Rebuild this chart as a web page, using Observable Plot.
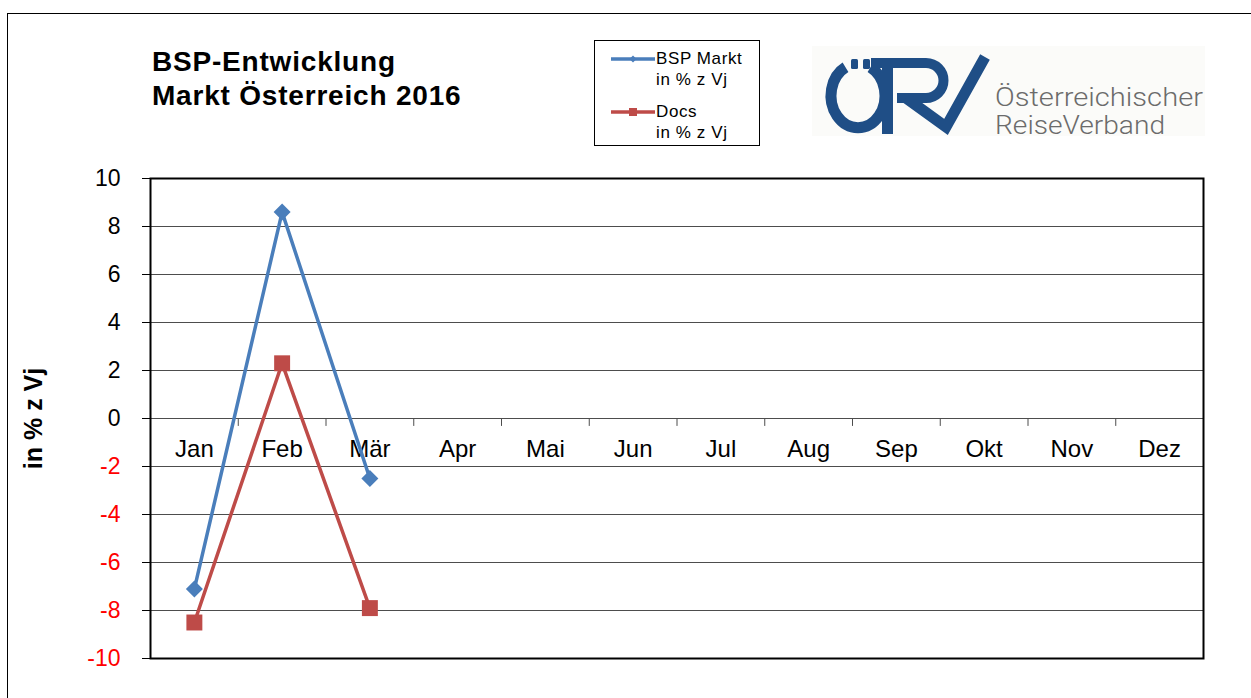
<!DOCTYPE html>
<html>
<head>
<meta charset="utf-8">
<script src="https://cdn.jsdelivr.net/npm/d3@7"></script>
<script src="https://cdn.jsdelivr.net/npm/@observablehq/plot@0.6"></script>
<style>
html,body{margin:0;padding:0;background:#fff;overflow:hidden;width:1251px;height:698px;font-family:"Liberation Sans",Arial,sans-serif}
#wrap{position:relative;width:1251px;height:698px;overflow:hidden}
#border{position:absolute;left:7px;top:13px;width:1400px;height:900px;border:1px solid #000}
#chart{position:absolute;left:0;top:0}
#title{position:absolute;left:152px;top:45px;font-weight:bold;font-size:28px;letter-spacing:0.8px;line-height:34px;color:#000;white-space:nowrap}
#legend{position:absolute;left:594px;top:40px;width:166px;height:106px;border:1px solid #000;box-sizing:border-box;background:#fff}
#deco{position:absolute;left:0;top:0;pointer-events:none}
</style>
</head>
<body>
<div id="wrap">
  <div id="border"></div>
  <div id="chart"></div>
  <div id="title">BSP-Entwicklung<br>Markt Österreich 2016</div>
  <div id="legend"></div>
  <svg id="deco" width="1251" height="698"></svg>
</div>
<script>
// ---- data ----
const months = ["Jan","Feb","Mär","Apr","Mai","Jun","Jul","Aug","Sep","Okt","Nov","Dez"];
const bspMarkt = [-7.1, 8.6, -2.5];
const docs = [-8.5, 2.3, -7.9];
const yTicks = [-10, -8, -6, -4, -2, 0, 2, 4, 6, 8, 10];
const seriesNames = ["BSP Markt", "Docs"];
const seriesSub = ["in % z Vj", "in % z Vj"];
const seriesColors = ["#4a7ebb", "#be4b48"];
const yLabel = "in % z Vj";

const rowsBsp = bspMarkt.map((v, i) => ({month: months[i], idx: i + 0.5, value: v, series: seriesNames[0], color: seriesColors[0]}));
const rowsDocs = docs.map((v, i) => ({month: months[i], idx: i + 0.5, value: v, series: seriesNames[1], color: seriesColors[1]}));

const font = "Liberation Sans, Arial, sans-serif";

const chart = Plot.plot({
  width: 1251,
  height: 698,
  marginLeft: 150,
  marginRight: 48,
  marginTop: 178,
  marginBottom: 40,
  x: {type: "linear", domain: [0, months.length], axis: null},
  y: {domain: [-10, 10], axis: null},
  style: {fontFamily: font, background: "transparent", color: "#000"},
  marks: [
    Plot.ruleY(yTicks, {stroke: "#4d4d4d", strokeWidth: 1}),
    Plot.ruleX(d3.range(1, months.length), {y1: 0, y2: -0.33, stroke: "#4d4d4d", strokeWidth: 1}),
    Plot.frame({stroke: "#000", strokeWidth: 2}),
    Plot.axisY({
      ticks: yTicks,
      tickSize: 8,
      tickPadding: 22,
      tickFormat: d => String(d),
      fontSize: 23,
      fill: d => d < 0 ? "#ff0000" : "#000000",
      label: null
    }),
    Plot.text(months, {x: (d, i) => i + 0.5, y: 0, dy: 31, text: d => d, fontSize: 24, fill: "#000"}),
    Plot.text([yLabel], {frameAnchor: "left", dx: -117, rotate: -90, textAnchor: "middle", lineAnchor: "middle", fontSize: 25, fontWeight: "bold", fill: "#000", text: d => d}),
    Plot.line(rowsBsp, {x: "idx", y: "value", stroke: "color", strokeWidth: 3.5}),
    Plot.dot(rowsBsp, {x: "idx", y: "value", symbol: "square", rotate: 45, r: 6.8, fill: "color", stroke: "none"}),
    Plot.line(rowsDocs, {x: "idx", y: "value", stroke: "color", strokeWidth: 3.5}),
    Plot.dot(rowsDocs, {x: "idx", y: "value", symbol: "square", r: 9, fill: "color", stroke: "none"})
  ]
});
document.getElementById("chart").appendChild(chart);

// ---- legend ----
const lg = d3.select("#legend").append("svg").attr("width", 164).attr("height", 104)
  .style("position", "absolute").style("left", "0px").style("top", "0px");
const lgY = [18, 71];
seriesNames.forEach((name, i) => {
  const g = lg.append("g");
  g.append("line").attr("x1", 16).attr("x2", 60).attr("y1", lgY[i]).attr("y2", lgY[i])
    .attr("stroke", seriesColors[i]).attr("stroke-width", 3.5);
  if (i === 0) {
    g.append("rect").attr("x", -2.5).attr("y", -2.5).attr("width", 5).attr("height", 5)
      .attr("transform", `translate(38,${lgY[i]}) rotate(45)`).attr("fill", seriesColors[i]);
  } else {
    g.append("rect").attr("x", 34).attr("y", lgY[i] - 4).attr("width", 8).attr("height", 8).attr("fill", seriesColors[i]);
  }
  g.append("text").attr("x", 61).attr("y", lgY[i] + 5).text(name)
    .attr("font-family", font).attr("font-size", 17).attr("letter-spacing", 0.6).attr("fill", "#000");
  g.append("text").attr("x", 61).attr("y", lgY[i] + 26).text(seriesSub[i])
    .attr("font-family", font).attr("font-size", 17).attr("letter-spacing", 0.6).attr("fill", "#000");
});

// ---- logo (decoration) ----
const deco = d3.select("#deco");
const blue = "#1f4e86";
deco.append("rect").attr("x", 812).attr("y", 46).attr("width", 393).attr("height", 90).attr("fill", "#fbfbf9");
// ring with gap at top
deco.append("path").attr("d", "M 845.5 67.3 A 27 32 0 1 0 870.5 67.3")
  .attr("fill", "none").attr("stroke", blue).attr("stroke-width", 11);
deco.append("rect").attr("x", 851).attr("y", 59).attr("width", 7).attr("height", 10).attr("rx", 1.5).attr("fill", blue);
deco.append("rect").attr("x", 863).attr("y", 59).attr("width", 7).attr("height", 10).attr("rx", 1.5).attr("fill", blue);
// R stem
deco.append("rect").attr("x", 882).attr("y", 58).attr("width", 11).attr("height", 76).attr("fill", blue);
// R top bar + bowl
deco.append("path").attr("d", "M 871 63 H 926 A 17.5 17.5 0 0 1 926 98 H 897")
  .attr("fill", "none").attr("stroke", blue).attr("stroke-width", 10);
// leg + V
deco.append("polyline").attr("points", "906,98 946,127 985,57")
  .attr("fill", "none").attr("stroke", blue).attr("stroke-width", 11).attr("stroke-linejoin", "miter").attr("stroke-miterlimit", 10);
deco.append("text").attr("x", 995).attr("y", 106).text("Österreichischer")
  .attr("font-family", "Roboto, DejaVu Sans, sans-serif").attr("font-weight", 300).attr("font-size", 25)
  .attr("fill", "#6b6b6b").attr("textLength", 208).attr("lengthAdjust", "spacingAndGlyphs");
deco.append("text").attr("x", 995).attr("y", 134).text("ReiseVerband")
  .attr("font-family", "Roboto, DejaVu Sans, sans-serif").attr("font-weight", 300).attr("font-size", 25)
  .attr("fill", "#6b6b6b").attr("textLength", 170).attr("lengthAdjust", "spacingAndGlyphs");
</script>
</body>
</html>
